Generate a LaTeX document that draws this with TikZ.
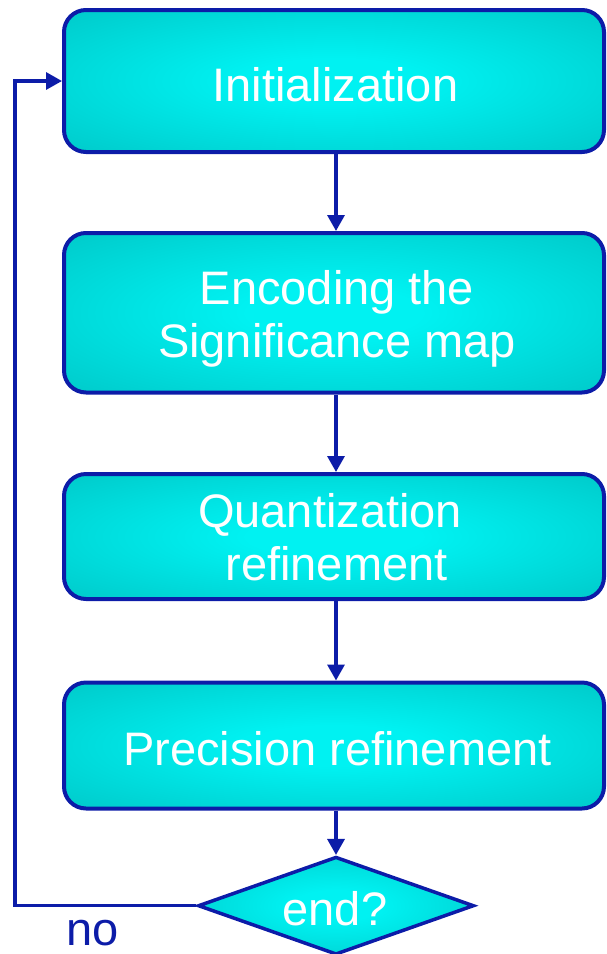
\documentclass[tikz,border=0pt]{standalone}
\usepackage{fontspec}
\setmainfont{Liberation Sans}
\usetikzlibrary{arrows.meta,shapes.geometric}
\definecolor{cinner}{RGB}{0,242,242}
\definecolor{couter}{RGB}{0,184,184}
\definecolor{navy}{RGB}{12,28,168}
\pgfdeclareradialshading{boxshade}{\pgfpoint{0bp}{0bp}}{color(0bp)=(cinner); color(8bp)=(cinner); color(48bp)=(couter); color(50bp)=(couter)}
\tikzset{
  stepbox/.style={draw=navy, line width=4pt, rounded corners=22pt, shading=boxshade, minimum width=540pt, inner sep=0pt},
  decide/.style={diamond, draw=navy, line width=3.5pt, shading=boxshade, minimum width=276pt, minimum height=98pt, inner sep=0pt},
  boxtext/.style={text=white, font=\fontsize{47}{53}\selectfont, align=center, inner sep=0pt},
  conn/.style={draw=navy, line width=3.3pt, -{Triangle[length=16pt,width=17pt]}},
}
\begin{document}
\begin{tikzpicture}[x=1pt,y=-1pt]
\path[use as bounding box] (0,0) rectangle (606,954);
% boxes
\node[stepbox, minimum height=142pt] (init) at (334,81) {};
\node[stepbox, minimum height=159.5pt] (enc) at (334,312.75) {};
\node[stepbox, minimum height=125pt] (quant) at (334,536.5) {};
\node[stepbox, minimum height=126pt] (prec) at (334,745.5) {};
\node[decide] (endq) at (336,905.7) {};
% texts
\node[boxtext, anchor=base] (initT) at (335.5,101.7) {Initialization};
\node[boxtext] (encT) at (337,318.5) {Encoding the\hspace{13pt}\\Significance map};
\node[boxtext] (quantT) at (330,537) {Quantization\\\hspace{13pt}refinement};
\node[boxtext, anchor=base] (precT) at (337.5,765) {Precision refinement};
\node[boxtext, anchor=base] (endT) at (335,925) {end?};
\node[text=navy, font=\fontsize{47}{53}\selectfont, inner sep=0pt, anchor=base] (no) at (93,945) {no};
% connectors
\coordinate (lp) at (15,0);
\draw[conn] ([xshift=2pt]init.south) -- ([xshift=2pt]enc.north);
\draw[conn] ([xshift=2pt]enc.south) -- ([xshift=2pt]quant.north);
\draw[conn] ([xshift=2pt]quant.south) -- ([xshift=2pt]prec.north);
\draw[conn] ([xshift=2pt]prec.south) -- (endq.north);
\draw[conn] (endq.west) -- (endq.west -| lp) |- (init.west);
\end{tikzpicture}
\end{document}
